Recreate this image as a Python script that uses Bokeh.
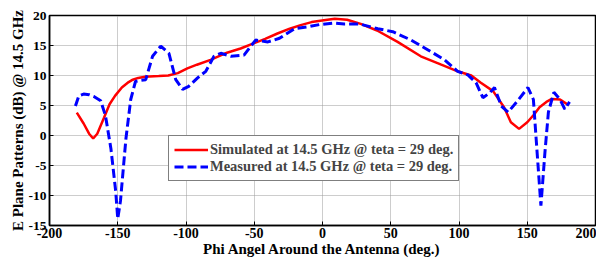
from bokeh.plotting import figure
from bokeh.models import Legend, LegendItem, FixedTicker, Range1d, CustomJSTickFormatter
from bokeh.embed import file_html
from bokeh.resources import INLINE

sim_x = [-180, -175, -171, -168, -165, -160, -156, -152, -147, -142, -139, -135, -130, -120, -113, -106, -99, -92, -82, -70, -60, -51, -42, -33, -24, -16, -8, 1, 9, 18, 28, 40, 55, 72, 87, 99, 109, 116, 125, 133, 138, 144, 150, 155, 159, 164, 168, 174, 180]
sim_y = [3.8, 2.0, 0.3, -0.5, 0.3, 3.0, 5.2, 6.6, 8.0, 8.9, 9.3, 9.6, 9.8, 9.9, 10.0, 10.4, 11.2, 11.8, 12.6, 13.8, 14.5, 15.3, 16.1, 17.0, 17.8, 18.4, 18.9, 19.2, 19.45, 19.3, 18.6, 17.5, 15.6, 13.2, 11.8, 10.7, 10.0, 8.8, 7.4, 4.7, 2.2, 1.1, 2.2, 3.5, 4.7, 5.6, 6.1, 6.0, 5.1]

meas_x = [-181, -178.5, -175, -171, -167.5, -162.5, -159, -155, -151.5, -150, -148, -144, -140.5, -137, -133, -129.5, -124.5, -118.5, -112.5, -107.5, -102.5, -98, -91.5, -85.5, -79.5, -74.5, -67, -57.5, -49, -40, -31.5, -20.5, -11, -2, 8.5, 16, 27, 40.5, 51.5, 65, 77, 89.5, 99, 106.5, 112.5, 117.5, 122.5, 126, 131, 136, 143, 150.5, 154.5, 156.5, 160, 163, 165.5, 169.5, 174, 177.5, 181]
meas_y = [4.9, 6.6, 6.9, 6.8, 6.5, 5.8, 3.3, -2.2, -9.3, -13.9, -10.9, -0.5, 6.0, 9.0, 9.2, 9.3, 13.2, 14.9, 13.7, 9.3, 7.7, 8.2, 9.6, 10.7, 13.2, 13.7, 13.2, 13.4, 15.9, 15.6, 16.2, 17.8, 18.1, 18.5, 18.75, 18.6, 18.6, 17.8, 17.3, 15.9, 14.3, 12.6, 10.7, 10.1, 8.8, 6.3, 7.1, 8.0, 4.9, 3.9, 5.8, 8.0, 6.0, -0.5, -11.7, -2.7, 3.9, 7.2, 6.0, 4.4, 5.6]

x_ticks = [-200, -150, -100, -50, 0, 50, 100, 150, 200]
y_ticks = [-15, -10, -5, 0, 5, 10, 15, 20]

sim_label = "Simulated at 14.5 GHz @ teta = 29 deg."
meas_label = "Measured at 14.5 GHz @ teta = 29 deg."
x_title = "Phi Angel Around the Antenna (deg.)"
y_title = "E Plane Patterns (dB) @ 14.5 GHz"

FONT = "Liberation Serif"

p = figure(width=596, height=259, output_backend="svg", toolbar_location=None,
           x_range=Range1d(-200, 200), y_range=Range1d(-15, 20),
           min_border_left=49, min_border_right=1, min_border_top=15, min_border_bottom=31,
           x_axis_label=x_title, y_axis_label=y_title)

p.outline_line_color = "black"
p.outline_line_width = 1.5

for ax, ticks in ((p.xaxis[0], x_ticks), (p.yaxis[0], y_ticks)):
    ax.ticker = FixedTicker(ticks=ticks)
    ax.formatter = CustomJSTickFormatter(code="return tick.toString();")
    ax.major_tick_in = 4
    ax.major_tick_out = 0
    ax.minor_tick_line_color = None
    ax.axis_line_width = 1.5
    ax.major_tick_line_width = 1
    ax.major_label_text_font = FONT
    ax.major_label_text_font_style = "bold"
    ax.major_label_text_font_size = "14px"
    ax.major_label_text_color = "black"
    ax.axis_label_text_font = FONT
    ax.axis_label_text_font_style = "bold"
    ax.axis_label_text_font_size = "15px"
    ax.axis_label_text_color = "black"

p.yaxis.major_label_text_font_size = "13.5px"
p.xaxis.major_label_standoff = 2
p.xaxis.axis_label_standoff = 0
p.yaxis.major_label_standoff = 3
p.yaxis.axis_label_standoff = 0

for g, ticks in ((p.xgrid[0], x_ticks), (p.ygrid[0], y_ticks)):
    g.ticker = FixedTicker(ticks=ticks)
    g.grid_line_color = "#9a9a9a"
    g.grid_line_dash = "1 1"
    g.grid_line_width = 1

r1 = p.line(sim_x, sim_y, line_color="#ff0000", line_width=2.5)
r2 = p.line(meas_x, meas_y, line_color="#0000ff", line_width=3, line_dash="9 4")

legend = Legend(items=[LegendItem(label=sim_label, renderers=[r1]),
                       LegendItem(label=meas_label, renderers=[r2])],
                location=(119, 44))
legend.label_text_font = FONT
legend.label_text_font_style = "bold"
legend.label_text_font_size = "14.5px"
legend.border_line_color = "black"
legend.border_line_width = 1.5
legend.background_fill_alpha = 1
legend.glyph_width = 34
legend.glyph_height = 15
legend.label_height = 15
legend.label_standoff = 2
legend.spacing = 0
legend.padding = 5
legend.margin = 0
p.add_layout(legend, "center")

open("out.html", "w").write(file_html(p, INLINE))
